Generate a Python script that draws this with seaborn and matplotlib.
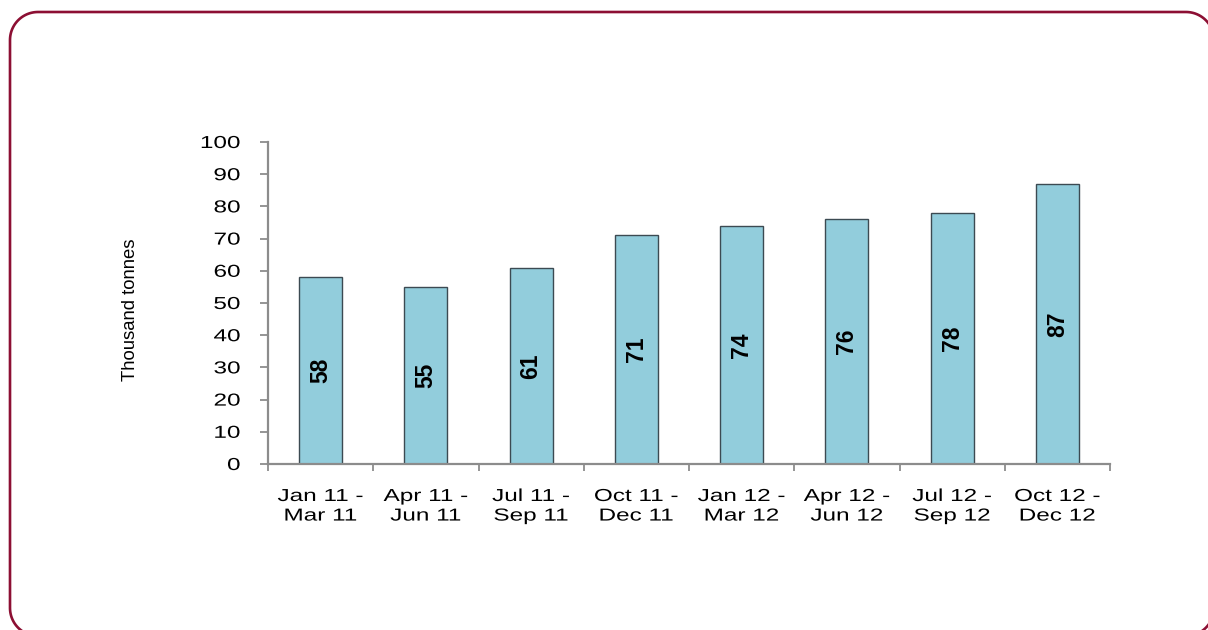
import matplotlib
matplotlib.use("Agg")
import matplotlib.pyplot as plt
from matplotlib.patches import Polygon
from matplotlib.patheffects import AbstractPathEffect
from matplotlib.ticker import FixedLocator
from matplotlib.transforms import Affine2D
import numpy as np
import seaborn as sns
import pandas as pd

periods = ["Jan 11 -\nMar 11", "Apr 11 -\nJun 11", "Jul 11 -\nSep 11", "Oct 11 -\nDec 11",
           "Jan 12 -\nMar 12", "Apr 12 -\nJun 12", "Jul 12 -\nSep 12", "Oct 12 -\nDec 12"]
volumes = [58, 55, 61, 71, 74, 76, 78, 87]
y_ticks = [0, 10, 20, 30, 40, 50, 60, 70, 80, 90, 100]


class WideText(AbstractPathEffect):
    """Draw text glyphs widened horizontally about a fixed anchor."""

    def __init__(self, sx, anchor="center"):
        super().__init__()
        self.sx = sx
        self.anchor = anchor

    def draw_path(self, renderer, gc, tpath, affine, rgbFace=None):
        ext = affine.transform_path(tpath).get_extents()
        if self.anchor == "right":
            ax0 = ext.x1
        elif self.anchor == "left":
            ax0 = ext.x0
        else:
            ax0 = 0.5 * (ext.x0 + ext.x1)
        stretch = Affine2D().translate(-ax0, 0).scale(self.sx, 1).translate(ax0, 0)
        renderer.draw_path(gc, tpath, affine + stretch, rgbFace)


def rounded_outline(x0, y0, x1, y1, r, n=24):
    """Closed outline of a rounded rectangle (inches)."""
    pts = []
    corners = [(x1 - r, y1 - r, 0.0), (x0 + r, y1 - r, 90.0),
               (x0 + r, y0 + r, 180.0), (x1 - r, y0 + r, 270.0)]
    for cx, cy, start in corners:
        a = np.radians(np.linspace(start, start + 90.0, n))
        pts.extend(zip(cx + r * np.cos(a), cy + r * np.sin(a)))
    return np.array(pts)


sns.set_theme(style="white")
plt.rcParams["font.family"] = ["Liberation Sans", "DejaVu Sans"]
plt.rcParams["text.color"] = "black"
plt.rcParams["xtick.color"] = "black"
plt.rcParams["ytick.color"] = "black"

df = pd.DataFrame({"period": periods, "volume": volumes})

fig = plt.figure(figsize=(12.08, 6.3), dpi=100)
ax = fig.add_axes([268 / 1208, 1 - 464 / 630, (1110 - 268) / 1208, (464 - 142) / 630])

sns.barplot(data=df, x="period", y="volume", ax=ax, color="#92CDDC",
            saturation=1, width=0.41, edgecolor="#3C4A52", linewidth=1.0)

ax.set_xlim(-0.5, len(periods) - 0.5)
ax.set_ylim(0, 100)
ax.set_yticks(y_ticks)
ax.set_xlabel("")
ax.set_ylabel("Thousand tonnes", fontsize=13.3, color="black")
ax.yaxis.set_label_coords((139 - 268) / 842, 0.48)

for s in ["top", "right"]:
    ax.spines[s].set_visible(False)
for s in ["left", "bottom"]:
    ax.spines[s].set_color("#8C8C8C")
    ax.spines[s].set_linewidth(1.6)

ax.tick_params(axis="y", which="major", left=True, length=6, width=1.3,
               color="#8C8C8C", labelcolor="black", labelsize=12.5, pad=14)
ax.tick_params(axis="x", which="major", bottom=False, labelcolor="black",
               labelsize=12.5, pad=12)
ax.xaxis.set_minor_locator(FixedLocator([i - 0.5 for i in range(len(periods) + 1)]))
ax.tick_params(axis="x", which="minor", bottom=True, length=5, width=1.3, color="#8C8C8C")

for lbl in ax.get_xticklabels():
    lbl.set_linespacing(1.38)
    lbl.set_path_effects([WideText(1.4, "center")])
for lbl in ax.get_yticklabels():
    lbl.set_path_effects([WideText(1.4, "right")])

for i, v in enumerate(volumes):
    ax.text(i, v / 2, f"{v:.0f}", rotation=90, ha="center", va="center",
            fontsize=16.5, fontweight="bold", color="black")

# rounded panel frame, laid out in inches (100 px per inch)
frame = Polygon(rounded_outline(0.10, -0.06, 12.14, 6.18, 0.28), closed=True,
                transform=fig.dpi_scale_trans, fill=False,
                edgecolor="#8C0F33", linewidth=1.9)
fig.patches.append(frame)

fig.savefig("out.png", dpi=100)
